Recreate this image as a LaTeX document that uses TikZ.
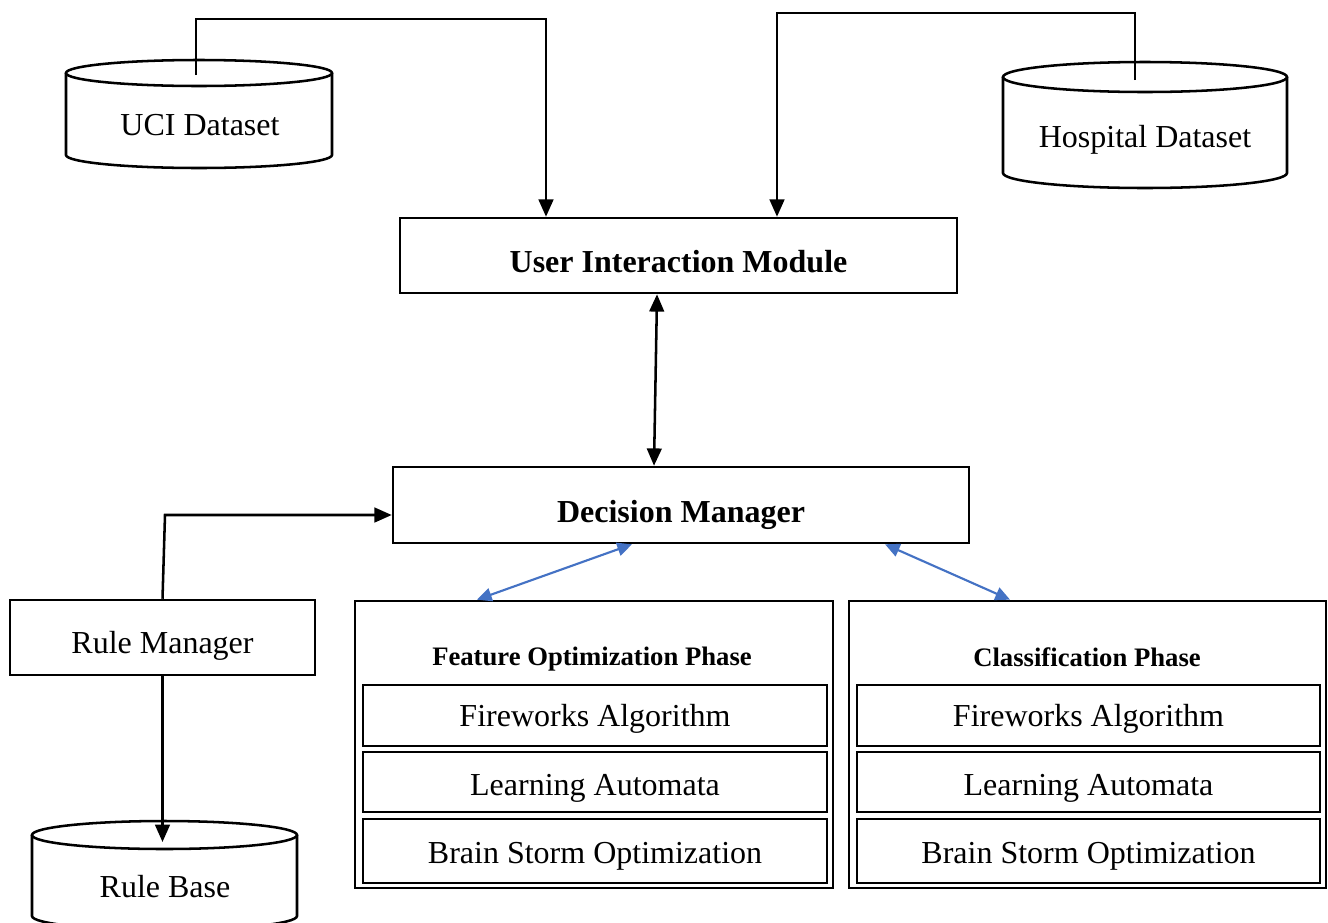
\documentclass[tikz,border=0pt]{standalone}
\usepackage{fontspec}
\setmainfont{Liberation Serif}
\usetikzlibrary{arrows.meta,calc}
\definecolor{linkblue}{HTML}{4472C4}
\tikzset{
  box/.style={draw=black, line width=1.9pt, fill=white, inner sep=0pt, align=center,
    font=\fontsize{24}{28}\selectfont},
  boldbox/.style={box, font=\fontsize{24}{28}\selectfont\bfseries},
  tlow/.style={text height=#1, text depth=0pt},
  phasebox/.style={draw=black, line width=2pt, inner sep=0pt},
  algbox/.style={box, line width=2pt},
  phasetitle/.style={inner sep=0pt, font=\fontsize{20}{24}\selectfont\bfseries},
  cyltext/.style={inner sep=0pt, font=\fontsize{24}{28}\selectfont},
  cyl/.style={draw=black, line width=1.9pt},
  arr/.style={draw=black, line width=1.9pt, -{Triangle[length=13pt,width=11pt]}},
  dblarr/.style={draw=black, line width=1.9pt, {Triangle[length=13pt,width=11pt]}-{Triangle[length=13pt,width=11pt]}},
  bluearr/.style={draw=linkblue, line width=1.6pt, {Triangle[length=11pt,width=10pt]}-{Triangle[length=11pt,width=10pt]}},
}
\begin{document}
\begin{tikzpicture}[x=0.75pt,y=-0.75pt]
\useasboundingbox (0,0) rectangle (1328,922);
\clip (0,0) rectangle (1328,922);

% ---- UCI Dataset cylinder
\draw[cyl] (66,73) -- (66,155) arc[start angle=180, end angle=0, x radius=133, y radius=13] -- (332,73);
\draw[cyl, fill=white] (199,73) ellipse [x radius=133, y radius=13];
\node[cyltext] (uci) at (200,125) {UCI Dataset};
\coordinate (ucitop) at (196,75);

% ---- Hospital Dataset cylinder
\draw[cyl] (1003,77) -- (1003,173) arc[start angle=180, end angle=0, x radius=142, y radius=15] -- (1287,77);
\draw[cyl, fill=white] (1145,77) ellipse [x radius=142, y radius=15];
\node[cyltext] (hosp) at (1145,140) {Hospital Dataset};
\coordinate (hosptop) at (1135,80);

% ---- Rule Base cylinder
\draw[cyl] (32,835) -- (32,916) arc[start angle=180, end angle=0, x radius=132.5, y radius=14] -- (297,835);
\draw[cyl, fill=white] (164.5,835) ellipse [x radius=132.5, y radius=14];
\node[cyltext] (rb) at (165,887) {Rule Base};
\coordinate (rbtop) at (162.5,842);

% ---- Main boxes
\node[boldbox, tlow=25.4pt, minimum width=557*0.75pt, minimum height=75*0.75pt] (uim) at (678.5,255.5) {User Interaction Module};
\node[boldbox, tlow=26.2pt, minimum width=576*0.75pt, minimum height=76*0.75pt] (dm) at (681,505) {Decision Manager};
\node[box, tlow=24.7pt, minimum width=305*0.75pt, minimum height=75*0.75pt] (rm) at (162.5,637.5) {Rule Manager};

% ---- Phase boxes
\node[phasebox, minimum width=478*0.75pt, minimum height=287*0.75pt] (fop) at (594,744.5) {};
\node[phasebox, minimum width=477*0.75pt, minimum height=287*0.75pt] (cp) at (1087.5,744.5) {};
\node[phasetitle] (foptitle) at (592,659) {Feature Optimization Phase};
\node[phasetitle] (cptitle) at (1087,657) {Classification Phase};

\node[algbox, tlow=17.2pt, minimum width=464*0.75pt, minimum height=61*0.75pt] (fa1) at (595,715.5) {Fireworks Algorithm};
\node[algbox, tlow=20.2pt, minimum width=464*0.75pt, minimum height=60*0.75pt] (la1) at (595,782) {Learning Automata};
\node[algbox, tlow=18.7pt, minimum width=464*0.75pt, minimum height=64*0.75pt] (bs1) at (595,851) {Brain Storm Optimization};

\node[algbox, tlow=17.2pt, minimum width=463*0.75pt, minimum height=61*0.75pt] (fa2) at (1088.5,715.5) {Fireworks Algorithm};
\node[algbox, tlow=20.2pt, minimum width=463*0.75pt, minimum height=60*0.75pt] (la2) at (1088.5,782) {Learning Automata};
\node[algbox, tlow=18.7pt, minimum width=463*0.75pt, minimum height=64*0.75pt] (bs2) at (1088.5,851) {Brain Storm Optimization};

% ---- Connectors
\coordinate (c1) at (546,19);
\draw[arr] (ucitop) |- (c1) -- (c1 |- uim.north);
\coordinate (c2) at (777,13);
\draw[arr] (hosptop) |- (c2) -- (c2 |- uim.north);

\draw[dblarr] ([xshift=-16.1pt]uim.south) -- ([xshift=-20.25pt]dm.north);

\coordinate (c3) at (165,515);
\draw[arr] (rm.north) -- (c3) -- (c3 -| dm.west);
\draw[arr] (rm.south) -- (rbtop);

\draw[bluearr] ([xshift=-36.75pt]dm.south) -- ([xshift=-87.75pt]fop.north);
\draw[bluearr] ([xshift=153pt]dm.south) -- ([xshift=-58.1pt]cp.north);
\end{tikzpicture}
\end{document}
